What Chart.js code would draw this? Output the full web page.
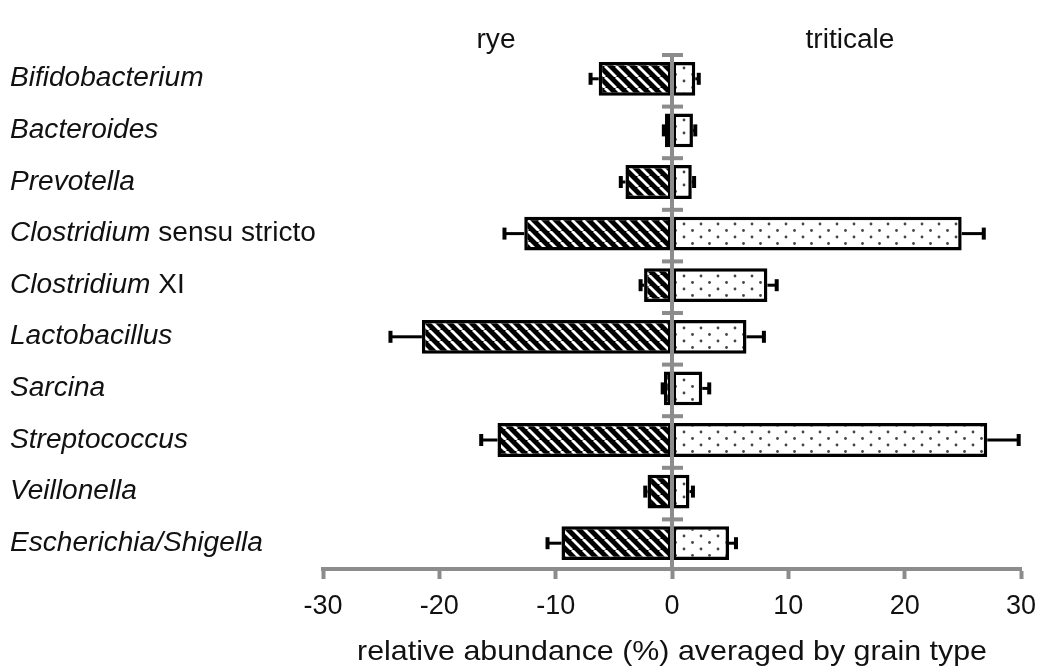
<!DOCTYPE html>
<html lang="en">
<head>
    <meta charset="UTF-8">
    <title>Relative abundance by grain type</title>
    <script src="https://cdn.jsdelivr.net/npm/chart.js@4.4.1/dist/chart.umd.min.js"></script>
    <style>
        html, body { margin: 0; padding: 0; background: #fff; }
        canvas { display: block; }
    </style>
</head>
<body>
    <canvas id="abundanceChart" width="1041" height="671"></canvas>

    <script>
        // Genera (italic part of each label) and the upright qualifier after it
        const genus = ['Bifidobacterium', 'Bacteroides', 'Prevotella', 'Clostridium', 'Clostridium',
            'Lactobacillus', 'Sarcina', 'Streptococcus', 'Veillonella', 'Escherichia/Shigella'];
        const qualifier = ['', '', '', ' sensu stricto', ' XI', '', '', '', '', ''];
        const categories = genus.map((g, i) => g + qualifier[i]);

        // Mean relative abundance (%), rye drawn to the left as negative values
        const ryeValues = [-6.3, -0.6, -4.0, -12.7, -2.4, -21.5, -0.7, -15.0, -2.1, -9.5];
        const ryeErrors = [0.7, 0.1, 0.4, 1.7, 0.3, 2.7, 0.1, 1.4, 0.2, 1.2];
        const triticaleValues = [2.0, 1.8, 1.7, 24.9, 8.2, 6.4, 2.6, 27.1, 1.5, 4.9];
        const triticaleErrors = [0.3, 0.2, 0.2, 1.9, 0.8, 1.5, 0.6, 2.7, 0.3, 0.6];

        const xTicks = [-30, -20, -10, 0, 10, 20, 30];
        const groupLabels = ['rye', 'triticale'];

        const AXIS_GREY = '#8c8c8c';
        const FONT = '"Liberation Sans", Arial, sans-serif';

        // black bar with thin white "\" stripes
        function stripePattern() {
            const s = 11;
            const c = document.createElement('canvas');
            c.width = s; c.height = s;
            const g = c.getContext('2d');
            g.fillStyle = '#000';
            g.fillRect(0, 0, s, s);
            g.strokeStyle = '#fff';
            g.lineWidth = 2.8;
            for (let k = -1; k <= 1; k++) {
                g.beginPath();
                g.moveTo(k * s, 0);
                g.lineTo(k * s + s, s);
                g.stroke();
            }
            return g.createPattern(c, 'repeat');
        }

        // white bar with staggered small grey dots
        function dotPattern() {
            const w = 17, h = 13;
            const c = document.createElement('canvas');
            c.width = w; c.height = h;
            const g = c.getContext('2d');
            g.fillStyle = '#fff';
            g.fillRect(0, 0, w, h);
            g.fillStyle = '#444';
            [[4, 3], [12.5, 9.5]].forEach(([x, y]) => {
                g.beginPath();
                g.arc(x, y, 1.4, 0, Math.PI * 2);
                g.fill();
            });
            return g.createPattern(c, 'repeat');
        }

        // zero line, category ticks, error bars and all free text
        const decorPlugin = {
            id: 'decor',
            afterDatasetsDraw(chart) {
                const ctx = chart.ctx;
                const xs = chart.scales.x;
                const ys = chart.scales.y;
                const area = chart.chartArea;

                // error bars
                const sets = [[ryeValues, ryeErrors, -1], [triticaleValues, triticaleErrors, 1]];
                ctx.save();
                ctx.strokeStyle = '#000';
                ctx.fillStyle = '#000';
                sets.forEach(([vals, errs, sign], d) => {
                    const meta = chart.getDatasetMeta(d);
                    vals.forEach((v, i) => {
                        const bar = meta.data[i];
                        const xe = xs.getPixelForValue(v + sign * errs[i]);
                        ctx.lineWidth = 3;
                        ctx.beginPath();
                        ctx.moveTo(bar.x, bar.y);
                        ctx.lineTo(xe, bar.y);
                        ctx.stroke();
                        ctx.fillRect(xe - 2, bar.y - 6, 4, 12);
                    });
                });
                ctx.restore();

                // vertical zero axis with category ticks
                const x0 = xs.getPixelForValue(0);
                ctx.save();
                ctx.fillStyle = AXIS_GREY;
                ctx.fillRect(x0 - 2, area.top, 4, area.bottom - area.top);
                const band = (area.bottom - area.top) / categories.length;
                for (let i = 0; i < categories.length; i++) {
                    const y = area.top + i * band + 2;
                    ctx.fillRect(x0 - 10, y - 2, 21, 4);
                }
                ctx.restore();

                // category labels (genus in italics)
                ctx.save();
                ctx.fillStyle = '#111';
                ctx.textBaseline = 'middle';
                const sx = 1.04;
                categories.forEach((_, i) => {
                    const y = ys.getPixelForValue(i);
                    ctx.save();
                    ctx.translate(10, y);
                    ctx.scale(sx, 1);
                    ctx.font = 'italic 27px ' + FONT;
                    ctx.fillText(genus[i], 0, 0);
                    const w = ctx.measureText(genus[i]).width;
                    if (qualifier[i]) {
                        ctx.font = '27px ' + FONT;
                        ctx.fillText(qualifier[i], w, 0);
                    }
                    ctx.restore();
                });

                // group headers
                ctx.textAlign = 'center';
                ctx.font = '27px ' + FONT;
                [[groupLabels[0], 496], [groupLabels[1], 850]].forEach(([t, x]) => {
                    ctx.save();
                    ctx.translate(x, 41);
                    ctx.scale(sx, 1);
                    ctx.fillText(t, 0, 0);
                    ctx.restore();
                });

                // axis title
                ctx.save();
                ctx.translate((area.left + area.right) / 2, 652);
                ctx.scale(1.085, 1);
                ctx.font = '28px ' + FONT;
                ctx.fillText('relative abundance (%) averaged by grain type', 0, 0);
                ctx.restore();
                ctx.restore();
            }
        };

        document.addEventListener('DOMContentLoaded', function () {
            const ctx = document.getElementById('abundanceChart').getContext('2d');
            new Chart(ctx, {
                type: 'bar',
                data: {
                    labels: categories,
                    datasets: [{
                        label: groupLabels[0],
                        data: ryeValues,
                        backgroundColor: stripePattern(),
                        borderColor: '#000',
                        borderWidth: 3.5,
                        borderSkipped: false
                    }, {
                        label: groupLabels[1],
                        data: triticaleValues,
                        backgroundColor: dotPattern(),
                        borderColor: '#000',
                        borderWidth: 3.5,
                        borderSkipped: false
                    }]
                },
                options: {
                    indexAxis: 'y',
                    responsive: false,
                    animation: false,
                    devicePixelRatio: 1,
                    categoryPercentage: 0.8,
                    barPercentage: 0.82,
                    layout: { padding: { top: 53, left: 323, right: 20, bottom: 0 } },
                    scales: {
                        x: {
                            stacked: true,
                            min: -30,
                            max: 30,
                            afterBuildTicks(scale) {
                                scale.ticks = xTicks.map(v => ({ value: v }));
                            },
                            afterFit(scale) {
                                scale.height = 102;
                                scale.paddingLeft = 0;
                                scale.paddingRight = 0;
                            },
                            border: { display: true, color: AXIS_GREY, width: 4 },
                            grid: {
                                drawOnChartArea: false,
                                drawTicks: true,
                                tickLength: 10,
                                tickWidth: 4,
                                tickColor: AXIS_GREY
                            },
                            ticks: {
                                color: '#111',
                                padding: 11,
                                maxRotation: 0,
                                font: { family: FONT, size: 27 }
                            }
                        },
                        y: {
                            stacked: true,
                            display: false
                        }
                    },
                    plugins: {
                        legend: { display: false },
                        tooltip: { enabled: false }
                    }
                },
                plugins: [decorPlugin]
            });
        });
    </script>
</body>
</html>
